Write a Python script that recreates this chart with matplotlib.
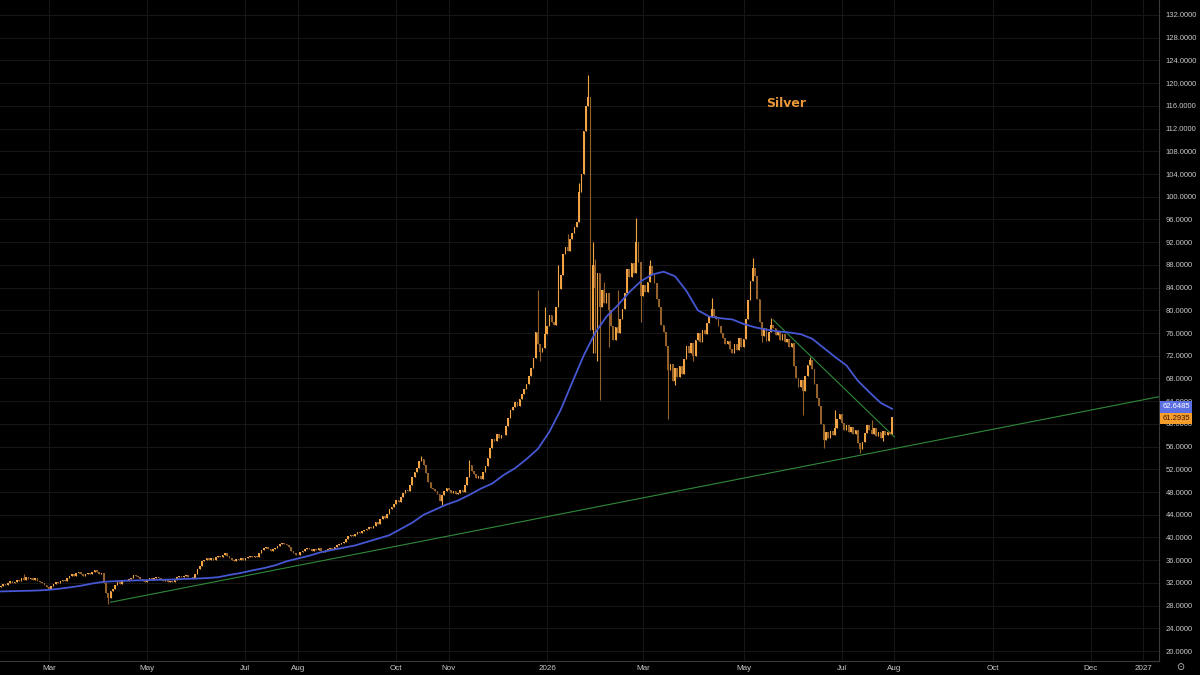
import numpy as np
import pandas as pd
import matplotlib
matplotlib.use("Agg")
import matplotlib.pyplot as plt

# daily closes, first bar 2025-01-31, business days
start_date = "2025-01-31"
first_open = 31.2
closes = [
    31.4, 31.8, 31.6, 32.0, 32.3, 31.9, 32.2, 32.6, 32.4, 32.8,
    32.5, 33.1, 32.7, 32.9, 32.6, 32.8, 32.4, 32.2, 31.9, 31.6,
    31.3, 31.0, 31.4, 31.8, 32.2, 32.0, 32.4, 32.6, 32.3, 32.8,
    33.2, 33.5, 33.3, 33.7, 33.9, 33.6, 33.3, 33.5, 33.8, 33.6,
    33.9, 34.2, 34.0, 33.6, 33.8, 32.0, 30.2, 29.3, 30.5, 31.0,
    31.6, 32.1, 31.8, 32.4, 32.6, 32.3, 32.7, 32.9, 33.4, 33.2,
    33.0, 32.7, 32.4, 32.2, 32.5, 32.8, 32.6, 32.9, 33.1, 32.8,
    32.6, 32.3, 32.5, 32.2, 32.4, 32.1, 32.6, 33.0, 33.3, 33.1,
    33.2, 33.4, 33.1, 33.0, 32.9, 33.6, 34.4, 35.0, 35.8, 36.1,
    36.4, 36.0, 36.3, 36.1, 36.5, 36.8, 36.6, 37.0, 37.2, 36.7,
    36.3, 36.1, 35.9, 36.2, 36.0, 36.3, 36.1, 36.4, 36.5, 36.7,
    36.5, 36.8, 36.6, 37.2, 37.8, 38.1, 38.3, 37.9, 37.7, 38.0,
    38.2, 38.5, 38.9, 39.1, 38.8, 38.6, 38.3, 37.6, 37.3, 37.0,
    36.9, 37.4, 37.7, 37.9, 38.2, 38.0, 37.7, 37.9, 37.8, 38.1,
    37.6, 37.4, 37.8, 38.0, 38.2, 37.9, 38.3, 38.6, 38.8, 39.0,
    39.2, 39.7, 40.2, 40.5, 40.3, 40.7, 41.0, 40.8, 41.1, 41.3,
    41.5, 41.8, 41.6, 42.0, 42.7, 42.4, 43.2, 43.7, 43.5, 44.2,
    45.0, 45.4, 45.9, 46.6, 46.3, 47.2, 47.9, 48.4, 48.1, 49.3,
    50.6, 51.6, 52.3, 53.5, 53.9, 52.8, 51.4, 49.8, 48.7, 48.5,
    48.1, 47.6, 46.5, 47.4, 48.2, 48.7, 48.3, 47.9, 48.1, 47.7,
    47.9, 48.3, 48.0, 49.2, 50.6, 52.8, 51.7, 51.2, 50.4, 50.9,
    50.3, 51.5, 52.6, 54.0, 55.8, 57.4, 56.9, 58.2, 57.6, 58.1,
    58.0, 59.6, 61.0, 62.4, 62.9, 63.8, 63.2, 64.3, 65.2, 66.1,
    67.0, 68.4, 69.8, 71.6, 76.2, 74.0, 72.6, 73.4, 75.8, 77.3,
    79.2, 78.0, 77.4, 80.6, 83.8, 86.2, 89.9, 91.2, 90.4, 92.6,
    93.6, 94.6, 95.5, 100.8, 104.0, 111.5, 116.0, 117.6, 76.5, 88.0,
    84.0, 86.5, 80.5, 83.5, 81.2, 83.0, 80.0, 77.2, 74.8, 77.0,
    76.0, 78.5, 80.2, 83.0, 87.2, 85.8, 88.3, 86.5, 92.0, 88.5,
    82.5, 84.5, 83.2, 85.0, 87.8, 86.2, 84.8, 82.0, 80.5, 77.5,
    76.2, 73.8, 69.5, 70.6, 67.5, 69.8, 68.2, 70.2, 68.8, 71.5,
    73.8, 72.5, 74.2, 72.0, 74.8, 76.0, 74.5, 76.5, 75.8, 77.8,
    78.8, 80.2, 79.0, 78.4, 77.2, 76.0, 75.2, 74.0, 74.6, 73.2,
    72.5, 74.0, 73.0, 75.2, 73.5, 75.0, 78.5, 81.8, 85.2, 87.5,
    86.0, 82.0, 78.0, 75.5, 76.8, 74.6, 76.2, 77.5, 76.8, 75.6,
    76.2, 74.8, 75.8, 74.5, 75.0, 73.6, 74.2, 70.2, 68.0, 66.5,
    67.8, 65.8, 68.5, 70.4, 71.2, 69.6, 67.0, 64.5, 63.2, 60.0,
    57.2, 58.6, 57.6, 58.8, 58.0, 59.2, 60.8, 61.8, 60.2, 59.0,
    59.8, 58.6, 59.4, 58.2, 58.9, 56.6, 55.6, 56.8, 58.4, 59.8,
    59.0, 58.2, 59.2, 57.8, 58.6, 57.6, 58.8, 58.0, 58.5, 58.2, 61.2935,
]

# wicks that stick out past the bodies
wick_high = {"2025-02-14": 33.5, "2025-10-16": 54.3, "2025-11-14": 53.6,
             "2025-12-26": 83.5, "2025-12-31": 80.5, "2026-01-08": 88.0,
             "2026-01-14": 93.5, "2026-01-21": 102.5, "2026-01-27": 121.4,
             "2026-01-29": 92.0, "2026-01-30": 89.0, "2026-02-05": 85.0,
             "2026-02-13": 83.5, "2026-02-25": 96.3, "2026-03-05": 88.8,
             "2026-04-13": 82.2, "2026-05-07": 89.2, "2026-05-19": 78.6,
             "2026-06-11": 71.8, "2026-06-26": 62.4, "2026-07-20": 60.7}
wick_low = {"2025-04-08": 28.2, "2025-10-29": 45.7, "2025-12-29": 71.0,
            "2026-01-29": 72.5, "2026-01-30": 72.5, "2026-02-02": 71.0,
            "2026-02-03": 64.2, "2026-02-09": 73.5, "2026-02-27": 78.0,
            "2026-03-17": 60.9, "2026-03-20": 66.9, "2026-04-01": 71.0,
            "2026-05-13": 74.5, "2026-06-08": 61.6, "2026-06-19": 55.8,
            "2026-07-13": 54.9, "2026-07-27": 57.0}

# moving average, read every 5th bar
ma_every5 = [
    30.5, 30.55, 30.6, 30.65, 30.75, 30.95, 31.2, 31.5, 31.9, 32.2,
    32.3, 32.4, 32.45, 32.5, 32.55, 32.6, 32.7, 32.75, 32.85, 33.0,
    33.4, 33.75, 34.2, 34.6, 35.1, 35.8, 36.3, 36.8, 37.4, 37.8,
    38.2, 38.6, 39.2, 39.8, 40.4, 41.5, 42.6, 44.0, 44.9, 45.8,
    46.5, 47.5, 48.6, 49.5, 51.0, 52.2, 53.8, 55.6, 58.6, 62.5,
    67.3, 72.0, 76.0, 78.9, 80.9, 83.2, 85.1, 86.3, 86.8, 86.0,
    83.4, 80.0, 78.9, 78.6, 78.4, 77.6, 77.0, 76.6, 76.3, 76.1,
    75.8, 75.0, 73.4, 71.8, 70.3, 67.6, 65.6, 63.7, 62.6485,
]

# trend lines drawn on the chart
support_dates = ["2025-04-09", "2027-01-12"]
support_prices = [28.6, 64.8]
falling_dates = ["2026-05-20", "2026-08-03"]
falling_prices = [78.3, 57.7]

tick_dates = ["2025-03-01", "2025-05-01", "2025-07-01", "2025-08-01", "2025-10-01",
              "2025-11-01", "2026-01-01", "2026-03-01", "2026-05-01", "2026-07-01",
              "2026-08-01", "2026-10-01", "2026-12-01", "2027-01-01"]
tick_labels = ["Mar", "May", "Jul", "Aug", "Oct", "Nov", "2026",
               "Mar", "May", "Jul", "Aug", "Oct", "Dec", "2027"]

UP = "#f2a445"
DOWN = "#94612a"
MA_COL = "#4657d3"
TXT = "#c9c9c9"

all_days = pd.bdate_range(start_date, "2027-03-31")


def pos(d):
    return all_days.searchsorted(pd.Timestamp(d))


c = np.array(closes)
o = np.r_[first_open, c[:-1]]
hi = np.maximum(o, c)
lo = np.minimum(o, c)
for d, v in wick_high.items():
    hi[pos(d)] = max(hi[pos(d)], v)
for d, v in wick_low.items():
    lo[pos(d)] = min(lo[pos(d)], v)
x = np.arange(len(c))
cols = np.where(c >= o, UP, DOWN)

fig = plt.figure(figsize=(12, 6.75), dpi=100, facecolor="black")
ax = fig.add_axes([0, 14 / 675, 1159 / 1200, 661 / 675])
ax.set_facecolor("black")

ax.vlines(x, lo, hi, colors=cols, lw=0.8, zorder=3)
body = np.maximum(np.abs(c - o), 0.1)
ax.bar(x, body, bottom=np.minimum(o, c), width=0.72, color=cols, lw=0, zorder=3)

ma_x = x[::5]
ax.plot(ma_x, ma_every5, color=MA_COL, lw=1.3, zorder=4, solid_joinstyle="round")

ax.plot([pos(d) for d in support_dates], support_prices, color="#2f8a3a", lw=0.8, zorder=2)
ax.plot([pos(d) for d in falling_dates], falling_prices, color="#2f8a3a", lw=0.8, zorder=2)

ax.set_xlim(-0.4, 506.8)
ax.set_ylim(18.25, 134.64)

ax.set_yticks(np.arange(20, 133, 4))
ax.set_yticklabels([f"{v:.4f}" for v in np.arange(20, 133, 4)])
ax.yaxis.tick_right()
ax.set_xticks([pos(d) for d in tick_dates])
ax.set_xticklabels(tick_labels)
ax.tick_params(axis="y", length=0, pad=5, labelsize=5.5, colors=TXT)
ax.tick_params(axis="x", length=0, pad=3, labelsize=5.8, colors=TXT)
for lab in ax.get_xticklabels() + ax.get_yticklabels():
    lab.set_family("Liberation Sans")
ax.grid(True, color="#171717", lw=0.7, zorder=0)

for s in ["top", "left"]:
    ax.spines[s].set_visible(False)
for s in ["right", "bottom"]:
    ax.spines[s].set_color("#3a3a3a")
    ax.spines[s].set_linewidth(0.8)

ax.text(0.678, 0.844, "Silver", transform=ax.transAxes, color="#e8973a",
        fontsize=9, ha="center", va="center", fontweight="bold")

# last value tags on the price axis
ax.annotate(f"{ma_every5[-1]:.4f}", xy=(1, ma_every5[-1]), xycoords=("axes fraction", "data"),
            xytext=(2.5, 1.5), textcoords="offset points", ha="left", va="center",
            fontsize=5.5, family="Liberation Sans", color="white", annotation_clip=False,
            bbox=dict(boxstyle="square,pad=0.3", fc="#5b6fe3", ec="none"), zorder=10)
ax.annotate(f"{closes[-1]:.4f}", xy=(1, closes[-1]), xycoords=("axes fraction", "data"),
            xytext=(2.5, -1.5), textcoords="offset points", ha="left", va="center",
            fontsize=5.5, family="Liberation Sans", color="#3a1500", annotation_clip=False,
            bbox=dict(boxstyle="square,pad=0.3", fc="#f59d2a", ec="none"), zorder=10)

fig.text(1180 / 1200, 1 - 667 / 675, "\u2299", ha="center", va="center", color=TXT, fontsize=7)

fig.savefig("out.png", dpi=100, facecolor="black")
